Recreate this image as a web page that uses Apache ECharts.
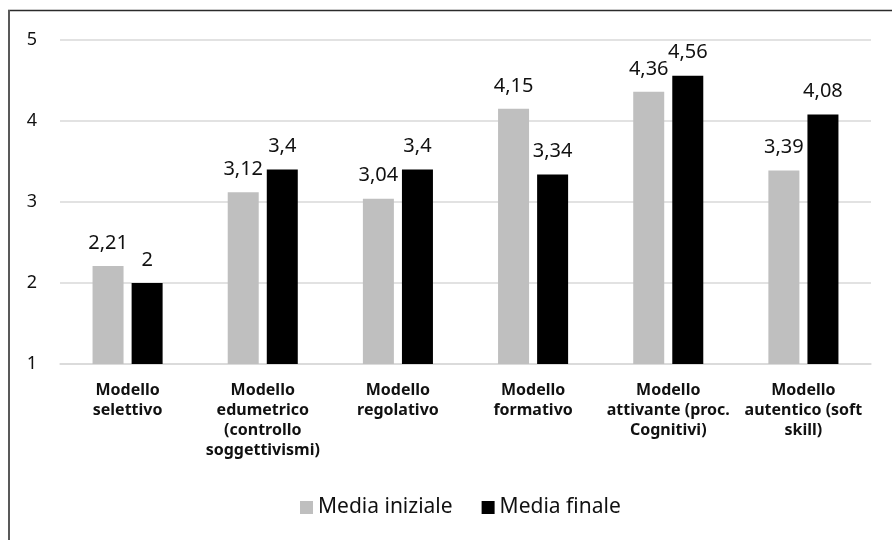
<!DOCTYPE html>
<html>
<head>
<meta charset="utf-8">
<script src="https://cdn.jsdelivr.net/npm/echarts@6/dist/echarts.min.js"></script>
<style>
  html, body { margin: 0; padding: 0; background: #fff; }
  #chart { width: 892px; height: 540px; }
</style>
</head>
<body>
<div id="chart"></div>
<script>
// Assessment models: initial vs final mean scores
const categories = [
  'Modello\nselettivo',
  'Modello\nedumetrico\n(controllo\nsoggettivismi)',
  'Modello\nregolativo',
  'Modello\nformativo',
  'Modello\nattivante (proc.\nCognitivi)',
  'Modello\nautentico (soft\nskill)'
];
const mediaIniziale = [2.21, 3.12, 3.04, 4.15, 4.36, 3.39];
const mediaFinale = [2, 3.4, 3.4, 3.34, 4.56, 4.08];
const seriesNames = ['Media iniziale', 'Media finale'];
const yTicks = [1, 2, 3, 4, 5];

const FONT = '"Noto Sans", sans-serif';
const fmt = v => String(v).replace('.', ',');

const chart = echarts.init(document.getElementById('chart'), null, { renderer: 'canvas' });

const valueLabel = {
  show: true,
  position: 'top',
  distance: 13,
  fontFamily: FONT,
  fontSize: 20,
  color: '#111',
  formatter: p => fmt(p.value)
};

chart.setOption({
  animation: false,
  backgroundColor: '#fff',
  textStyle: { fontFamily: FONT },
  grid: { left: 60, right: 21, top: 40, bottom: 176, containLabel: false },
  legend: {
    data: seriesNames,
    left: 300,
    top: 497,
    padding: 0,
    itemWidth: 13,
    itemHeight: 13,
    itemGap: 29,
    icon: 'rect',
    textStyle: { fontFamily: FONT, fontSize: 21, color: '#111' }
  },
  xAxis: {
    type: 'category',
    data: categories,
    axisTick: { show: false },
    axisLine: { lineStyle: { color: '#d9d9d9', width: 1.5 } },
    axisLabel: {
      interval: 0,
      margin: 16,
      fontFamily: FONT,
      fontSize: 16,
      fontWeight: 'bold',
      lineHeight: 20,
      color: '#111'
    }
  },
  yAxis: {
    type: 'value',
    min: yTicks[0],
    max: yTicks[yTicks.length - 1],
    interval: 1,
    axisLine: { show: false },
    axisTick: { show: false },
    splitLine: { lineStyle: { color: '#d9d9d9', width: 1.5 } },
    axisLabel: {
      margin: 23,
      fontFamily: FONT,
      fontSize: 18,
      color: '#111'
    }
  },
  series: [
    {
      name: seriesNames[0],
      type: 'bar',
      data: mediaIniziale,
      barWidth: 31,
      barGap: '26%',
      itemStyle: { color: '#bfbfbf' },
      label: valueLabel
    },
    {
      name: seriesNames[1],
      type: 'bar',
      data: mediaFinale,
      barWidth: 31,
      itemStyle: { color: '#000000' },
      label: valueLabel
    }
  ],
  graphic: [
    {
      type: 'line',
      shape: { x1: 8, y1: 10.5, x2: 892, y2: 10.5 },
      style: { stroke: '#2b2b2b', lineWidth: 1.5 }
    },
    {
      type: 'line',
      shape: { x1: 9, y1: 10, x2: 9, y2: 540 },
      style: { stroke: '#595959', lineWidth: 2 }
    }
  ]
});
</script>
</body>
</html>
